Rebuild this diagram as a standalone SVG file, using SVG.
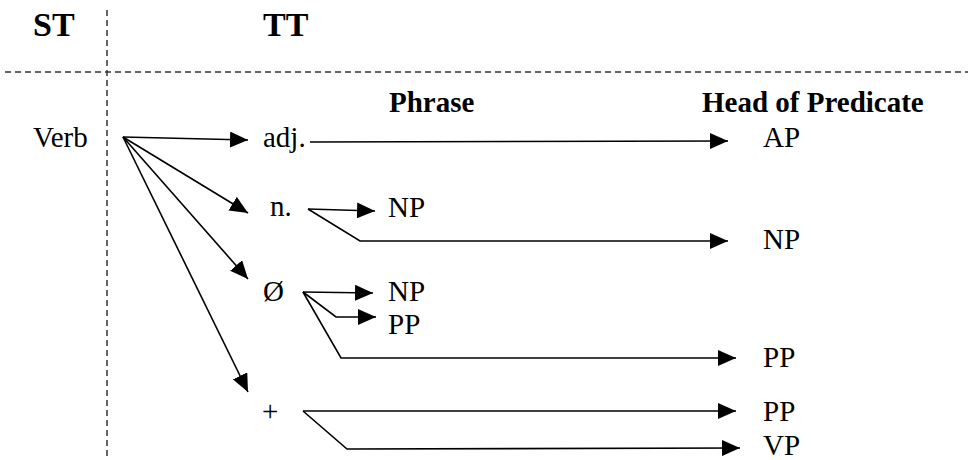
<svg xmlns="http://www.w3.org/2000/svg" width="968" height="460" viewBox="0 0 968 460">
<style>
.t{font-family:'Liberation Serif','Times New Roman',serif;font-size:29px;fill:#000}
.h{font-family:'Liberation Serif','Times New Roman',serif;font-weight:bold;fill:#000}
.c{fill:none;stroke:#000;stroke-width:1.6}
.d{fill:none;stroke:#333;stroke-width:1.5;stroke-dasharray:6 4}
</style>
<defs>
<marker id="a" markerUnits="userSpaceOnUse" markerWidth="18" markerHeight="16" refX="18" refY="8" orient="auto" viewBox="0 0 18 16">
<path d="M0,0 L18,8 L0,16 z" fill="#000"/>
</marker>
</defs>
<g id="grid">
<line class="d" x1="107" y1="10" x2="107" y2="460"/>
<line class="d" x1="5" y1="72" x2="968" y2="72"/>
</g>
<g id="headers">
<text class="h" x="33" y="36" font-size="34">ST</text>
<text class="h" x="263" y="36" font-size="34">TT</text>
<text class="h" x="389" y="112" font-size="29">Phrase</text>
<text class="h" x="702" y="112" font-size="29">Head of Predicate</text>
</g>
<g id="verb"><text class="t" x="33" y="147">Verb</text></g>
<g id="adj"><text class="t" x="263" y="147">adj.</text></g>
<g id="n"><text class="t" x="270" y="216">n.</text></g>
<g id="zero"><text class="t" x="263" y="301">Ø</text></g>
<g id="plus"><text class="t" x="262" y="421">+</text></g>
<g id="phrase-np1"><text class="t" x="388" y="217">NP</text></g>
<g id="phrase-np2"><text class="t" x="388" y="301">NP</text></g>
<g id="phrase-pp"><text class="t" x="388" y="334">PP</text></g>
<g id="head-ap"><text class="t" x="763" y="147">AP</text></g>
<g id="head-np"><text class="t" x="763" y="249">NP</text></g>
<g id="head-pp1"><text class="t" x="763" y="367">PP</text></g>
<g id="head-pp2"><text class="t" x="763" y="421">PP</text></g>
<g id="head-vp"><text class="t" x="763" y="455">VP</text></g>
<g id="connectors">
<line class="c" x1="123" y1="137" x2="248" y2="140" marker-end="url(#a)"/>
<line class="c" x1="123" y1="137" x2="248" y2="213" marker-end="url(#a)"/>
<line class="c" x1="123" y1="137" x2="248" y2="279" marker-end="url(#a)"/>
<line class="c" x1="123" y1="137" x2="248" y2="392" marker-end="url(#a)"/>
<line class="c" x1="310" y1="142" x2="728" y2="141" marker-end="url(#a)"/>
<line class="c" x1="308" y1="209" x2="375" y2="211" marker-end="url(#a)"/>
<polyline class="c" points="308,209 360,241 728,241" marker-end="url(#a)"/>
<line class="c" x1="303" y1="292" x2="373" y2="293" marker-end="url(#a)"/>
<polyline class="c" points="303,292 336,317 376,317" marker-end="url(#a)"/>
<polyline class="c" points="303,292 341,358 736,358" marker-end="url(#a)"/>
<line class="c" x1="303" y1="411" x2="736" y2="411" marker-end="url(#a)"/>
<polyline class="c" points="303,411 347,449 740,448" marker-end="url(#a)"/>
</g>
</svg>
